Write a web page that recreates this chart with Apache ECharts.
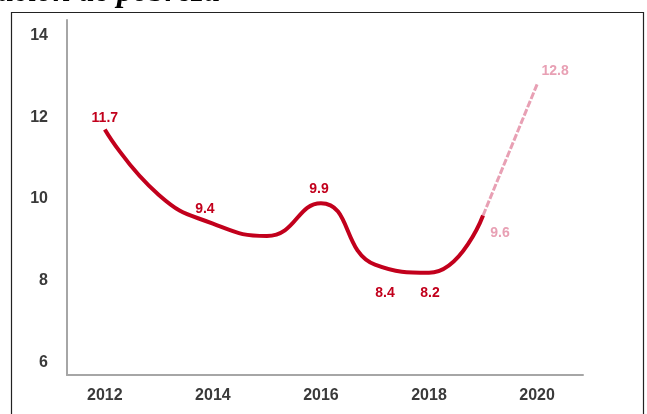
<!DOCTYPE html>
<html>
<head>
<meta charset="utf-8">
<script src="https://cdn.jsdelivr.net/npm/echarts@6/dist/echarts.min.js"></script>
<style>html,body{margin:0;padding:0;background:#fff;}#c{width:647px;height:414px;}</style>
</head>
<body>
<div id="c"></div>
<script>
const years = [2012, 2013, 2014, 2015, 2016, 2017, 2018, 2019];
const values = [11.7, 10.1, 9.4, 9.1, 9.9, 8.4, 8.2, 9.6];
const projYears = [2019, 2020];
const projValues = [9.6, 12.8];
const xTicks = [2012, 2014, 2016, 2018, 2020];
const yTicks = [6, 8, 10, 12, 14];
const labeledYears = [2012, 2014, 2016, 2017, 2018];
const titleText = 'ación de pobreza';

const labelCfg = {
  2012: {position: 'top', offset: [0, 1]},
  2014: {position: 'top', offset: [-8, -2]},
  2016: {position: 'top', offset: [-2, -2]},
  2017: {position: 'bottom', offset: [10, 16]},
  2018: {position: 'bottom', offset: [1, 8]}
};

const red = '#c2001c';
const pink = '#e8a0b4';

const solidData = years.map((y, i) => {
  const d = {value: [y, values[i]]};
  d.label = labeledYears.includes(y) ? Object.assign({show: true}, labelCfg[y]) : {show: false};
  return d;
});
const projData = projYears.map((y, i) => {
  const d = {value: [y, projValues[i]]};
  d.label = i === 0 ? {show: true, position: 'bottom', offset: [17, 5]} : {show: true, position: 'top', offset: [18, -1]};
  return d;
});

const chart = echarts.init(document.getElementById('c'), null, {renderer: 'canvas'});
chart.setOption({
  animation: false,
  backgroundColor: '#fff',
  grid: {left: 67, right: 64, top: 20, bottom: 39, containLabel: false},
  xAxis: {
    type: 'value', min: 2011.3, max: 2020.85,
    splitLine: {show: false},
    axisLine: {show: true, lineStyle: {color: '#a6a6a6', width: 2}},
    axisTick: {show: false},
    axisLabel: {customValues: xTicks, color: '#3a3a3a', fontSize: 16, fontFamily: 'Liberation Sans, Arial', fontWeight: 'bold', margin: 13, formatter: v => String(v)}
  },
  yAxis: {
    type: 'value', min: 5.707, max: 14.37,
    splitLine: {show: false},
    axisLine: {show: true, lineStyle: {color: '#a6a6a6', width: 2}},
    axisTick: {show: false},
    axisLabel: {customValues: yTicks, color: '#3a3a3a', fontSize: 16, fontFamily: 'Liberation Sans, Arial', fontWeight: 'bold', margin: 19}
  },
  series: [
    {
      type: 'line', data: solidData, smooth: 0.5, symbol: 'circle', symbolSize: 1, showSymbol: true,
      itemStyle: {color: 'rgba(0,0,0,0)', borderWidth: 0},
      lineStyle: {color: red, width: 4},
      label: {show: false, color: red, fontSize: 14, fontWeight: 'bold', fontFamily: 'Liberation Sans, Arial', formatter: p => p.value[1].toFixed(1)},
      z: 3
    },
    {
      type: 'line', data: projData, smooth: false, symbol: 'circle', symbolSize: 1, showSymbol: true,
      itemStyle: {color: 'rgba(0,0,0,0)', borderWidth: 0},
      lineStyle: {color: pink, width: 3, type: [7, 2]},
      label: {show: true, color: pink, fontSize: 14, fontWeight: 'bold', fontFamily: 'Liberation Sans, Arial', formatter: p => p.value[1].toFixed(1)},
      z: 2
    }
  ],
  graphic: [
    {type: 'rect', left: 9, top: 10, shape: {width: 632, height: 420}, style: {fill: 'none', stroke: '#222', lineWidth: 1.2}, silent: true},
    {type: 'text', left: -2, top: -23, style: {text: titleText, fill: '#000', font: 'italic bold 32px "Liberation Serif", "Times New Roman", serif'}}
  ]
});
</script>
</body>
</html>
